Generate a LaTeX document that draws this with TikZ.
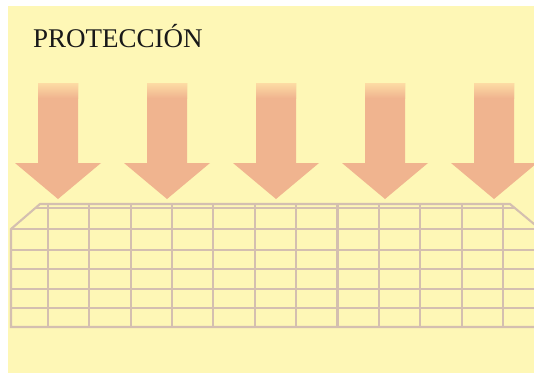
\documentclass[tikz,border=0pt]{standalone}
\usepackage{fontspec}
\setmainfont{Liberation Serif}
\definecolor{bg}{HTML}{FEF7B6}
\definecolor{arr}{HTML}{F0B48F}
\definecolor{arrlight}{HTML}{FDDCA4}
\definecolor{gridc}{HTML}{D4BFB0}
\begin{document}
\begin{tikzpicture}[x=1pt,y=-1pt,
  arrowbody/.style={fill=arr,draw=none},
  arrowtop/.style={top color=arrlight,bottom color=arr,draw=none},
  gridline/.style={draw=gridc,line width=2.1pt,line join=miter}]
\useasboundingbox (0,0) rectangle (534,373);
\clip (0,0) rectangle (534,373);
\fill[bg] (8,6) rectangle (534,373);
\node[anchor=base west,inner sep=0,font=\fontsize{27}{30}\selectfont,text=black!90] (title) at (33,47) {PROTECCIÓN};
\foreach \c in {58,167,276,385,494} {
  \path[arrowbody] (\c-20,83) -- (\c+20,83) -- (\c+20,163) -- (\c+43,163) -- (\c,199) -- (\c-43,163) -- (\c-20,163) -- cycle;
  \shade[arrowtop] (\c-20,83) rectangle (\c+20,98);
}
% grid
\foreach \y in {229,250,269,289,308}
  \draw[gridline] (11,\y) -- (534,\y);
\draw[gridline] (35.2,208) -- (514.8,208);
\foreach \i in {0,...,11}
  \draw[gridline] ({48+\i*41.36},204) -- ({48+\i*41.36},327);
\draw[gridline] (540,229) -- (510,204) -- (40,204) -- (11,229) -- (11,327) -- (540,327);
\end{tikzpicture}
\end{document}
